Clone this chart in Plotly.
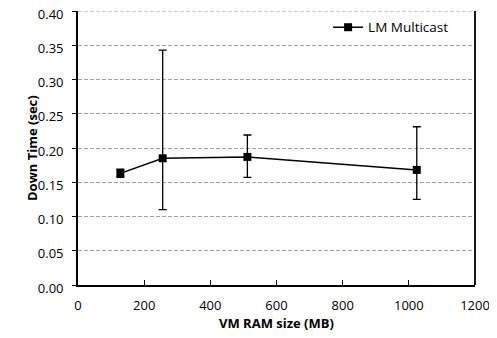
import plotly.graph_objects as go

ram_mb = [128, 256, 512, 1024]
down_time = [0.163, 0.185, 0.187, 0.168]
err_plus = [0.006, 0.158, 0.032, 0.063]
err_minus = [0.006, 0.075, 0.030, 0.043]
series_name = "LM Multicast"
y_ticks = [0.0, 0.05, 0.10, 0.15, 0.20, 0.25, 0.30, 0.35, 0.40]
x_ticks = [0, 200, 400, 600, 800, 1000, 1200]
x_title = "VM RAM size (MB)"
y_title = "Down Time (sec)"

fig = go.Figure()
fig.add_trace(go.Scatter(
    x=ram_mb, y=down_time, name=series_name, mode="lines+markers",
    line=dict(color="black", width=1.5),
    marker=dict(symbol="square", size=8, color="black"),
    error_y=dict(type="data", symmetric=False, array=err_plus, arrayminus=err_minus,
                 color="black", thickness=1.3, width=4),
))

font = "Open Sans, Liberation Sans, sans-serif"
# page has an 8px body margin; figure size and margins compensate for it
fig.update_layout(
    width=489, height=330,
    margin=dict(l=70, r=22, t=3, b=53, autoexpand=False),
    plot_bgcolor="white", paper_bgcolor="white",
    font=dict(family=font, size=13, color="black"),
    showlegend=True,
    legend=dict(x=0.63, y=0.94, xanchor="left", yanchor="middle",
                bgcolor="rgba(0,0,0,0)", font=dict(size=13.5)),
    xaxis=dict(range=[0, 1200], tickvals=x_ticks, showgrid=False, automargin=False,
               showline=True, linecolor="black", linewidth=1.5, mirror=False,
               ticks="inside", ticklen=5, tickcolor="black", ticklabelstandoff=8,
               ticklabeloverflow="allow", zeroline=False),
    yaxis=dict(range=[0, 0.4], tickvals=y_ticks, tickformat=".2f", automargin=False,
               showgrid=True, gridcolor="#a0a0a0", griddash="4px,2px", gridwidth=1,
               showline=True, linecolor="black", linewidth=1.8,
               ticks="outside", ticklen=4, tickcolor="black", ticklabelstandoff=6,
               ticklabelshift=3, ticklabeloverflow="allow", zeroline=False),
    annotations=[
        dict(text="<b>" + x_title + "</b>", xref="paper", yref="paper", x=0.5, y=0,
             yshift=-38, showarrow=False, yanchor="middle", font=dict(size=13)),
        dict(text="<b>" + y_title + "</b>", xref="paper", yref="paper", x=0, y=0.5,
             xshift=-57, showarrow=False, textangle=-90, font=dict(size=13)),
    ],
)
# top gridline at the last tick (plotly skips gridlines at the range edge)
fig.add_shape(type="line", xref="paper", yref="y", x0=0, x1=1, y0=y_ticks[-1], y1=y_ticks[-1],
              line=dict(color="#a0a0a0", width=1, dash="4px,2px"), layer="below")
fig.add_shape(type="line", xref="paper", yref="paper", x0=1, x1=1, y0=0, y1=1,
              line=dict(color="black", width=1.8))

fig.write_html("out.html")
